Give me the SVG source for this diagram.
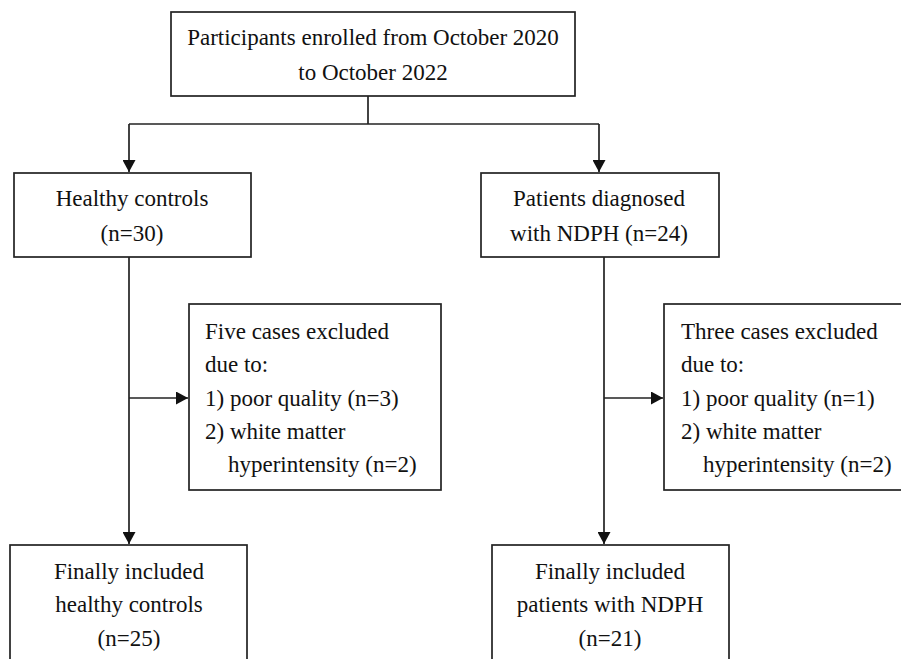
<svg xmlns="http://www.w3.org/2000/svg" width="901" height="659" viewBox="0 0 901 659">
<style>
.box{fill:#fff;stroke:#222;stroke-width:1.7}
.ln{fill:none;stroke:#222;stroke-width:1.7}
text{font-family:"Liberation Serif","Times New Roman",serif;font-size:23px;fill:#111}
.c{text-anchor:middle}
</style>
<defs>
<marker id="ah" markerWidth="12" markerHeight="13" refX="12" refY="6.5" orient="auto" markerUnits="userSpaceOnUse">
<path d="M0,0 L12,6.5 L0,13 Z" fill="#111"/>
</marker>
</defs>
<rect width="901" height="659" fill="#fff"/>
<g id="connectors">
<path class="ln" d="M368,96 V124"/>
<path class="ln" d="M129,124 H599"/>
<path class="ln" d="M129,124 V172" marker-end="url(#ah)"/>
<path class="ln" d="M599,124 V172" marker-end="url(#ah)"/>
<path class="ln" d="M129,257 V544" marker-end="url(#ah)"/>
<path class="ln" d="M129,398 H188" marker-end="url(#ah)"/>
<path class="ln" d="M604,257 V544" marker-end="url(#ah)"/>
<path class="ln" d="M604,398 H663" marker-end="url(#ah)"/>
</g>
<g id="enrolled">
<rect class="box" x="171" y="12" width="404" height="84"/>
<text class="c" x="373" y="45">Participants enrolled from October 2020</text>
<text class="c" x="373" y="80">to October 2022</text>
</g>
<g id="healthy">
<rect class="box" x="14" y="173" width="237" height="84"/>
<text class="c" x="132" y="206">Healthy controls</text>
<text class="c" x="132" y="241">(n=30)</text>
</g>
<g id="ndph">
<rect class="box" x="481" y="173" width="238" height="84"/>
<text class="c" x="599" y="206">Patients diagnosed</text>
<text class="c" x="599" y="241">with NDPH (n=24)</text>
</g>
<g id="excluded-healthy">
<rect class="box" x="189" y="304" width="252" height="186"/>
<text x="205" y="339">Five cases excluded</text>
<text x="205" y="372">due to:</text>
<text x="205" y="406">1) poor quality (n=3)</text>
<text x="205" y="439">2) white matter</text>
<text x="228" y="472">hyperintensity (n=2)</text>
</g>
<g id="excluded-ndph">
<rect class="box" x="664" y="304" width="250" height="186"/>
<text x="681" y="339">Three cases excluded</text>
<text x="681" y="372">due to:</text>
<text x="681" y="406">1) poor quality (n=1)</text>
<text x="681" y="439">2) white matter</text>
<text x="703" y="472">hyperintensity (n=2)</text>
</g>
<g id="final-healthy">
<rect class="box" x="10" y="545" width="237" height="130"/>
<text class="c" x="129" y="579">Finally included</text>
<text class="c" x="129" y="612">healthy controls</text>
<text class="c" x="129" y="646">(n=25)</text>
</g>
<g id="final-ndph">
<rect class="box" x="492" y="545" width="237" height="130"/>
<text class="c" x="610" y="579">Finally included</text>
<text class="c" x="610" y="612">patients with NDPH</text>
<text class="c" x="610" y="646">(n=21)</text>
</g>
</svg>
